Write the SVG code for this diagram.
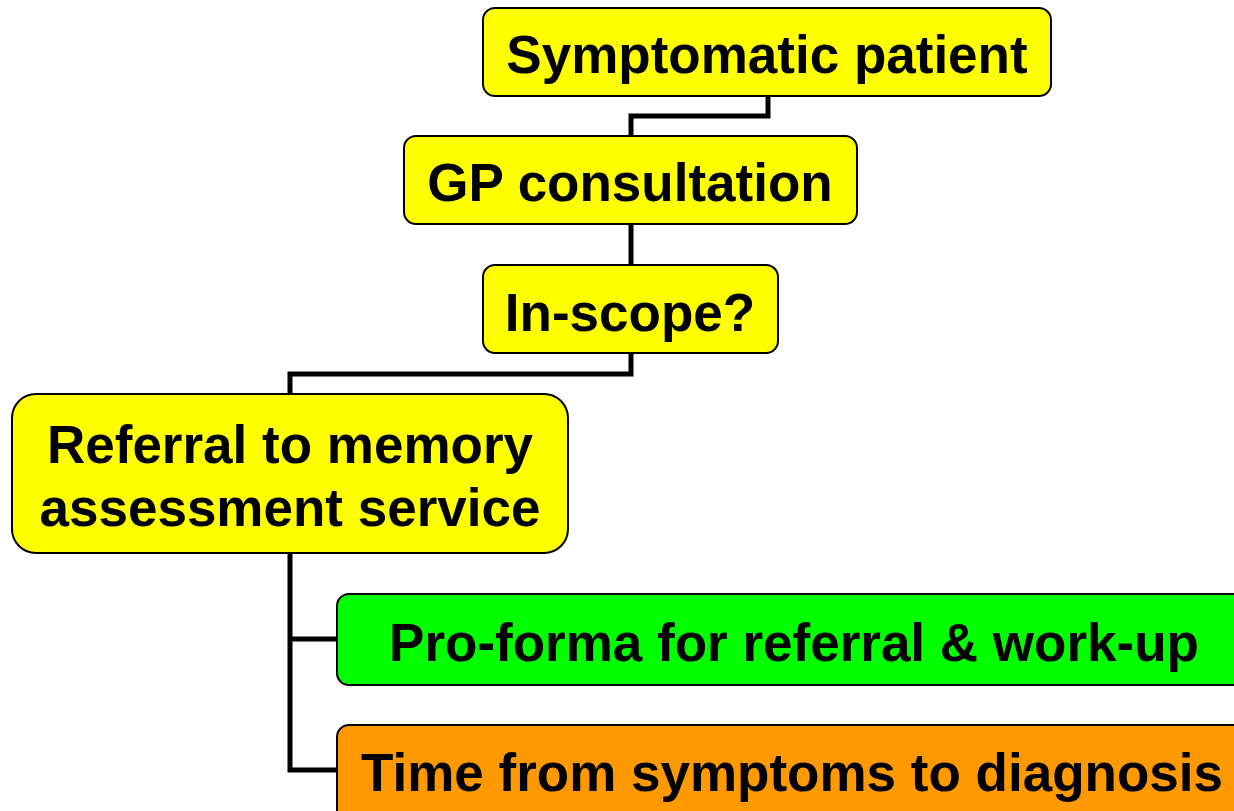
<svg xmlns="http://www.w3.org/2000/svg" width="1234" height="811" viewBox="0 0 1234 811">
<style>
.box{stroke:#000;stroke-width:2}
.y{fill:#ffff00}.g{fill:#00ff00}.o{fill:#ff9900}
text{font-family:"Liberation Sans",Arial,sans-serif;font-weight:bold;font-size:53px;fill:#000;text-anchor:middle}
.c{fill:none;stroke:#000;stroke-width:5}
</style>
<rect width="1234" height="811" fill="#fff"/>
<g id="connectors">
<polyline class="c" points="768,96 768,116 631,116 631,136"/>
<polyline class="c" points="631,224 631,265"/>
<polyline class="c" points="631,353 631,374 290,374 290,394"/>
<polyline class="c" points="290,553 290,770 337,770"/>
<polyline class="c" points="290,639 337,639"/>
</g>
<g id="symptomatic">
<rect class="box y" x="483" y="8" width="568" height="88" rx="12"/>
<text x="767" y="73">Symptomatic patient</text>
</g>
<g id="gp">
<rect class="box y" x="404" y="136" width="453" height="88" rx="12"/>
<text x="630" y="201">GP consultation</text>
</g>
<g id="inscope">
<rect class="box y" x="483" y="265" width="295" height="88" rx="12"/>
<text x="630" y="331">In-scope?</text>
</g>
<g id="referral">
<rect class="box y" x="12" y="394" width="556" height="159" rx="24"/>
<text x="290" y="463">Referral to memory</text>
<text x="290" y="526">assessment service</text>
</g>
<g id="proforma">
<rect class="box g" x="337" y="594" width="920" height="91" rx="12"/>
<text x="794" y="661">Pro-forma for referral &amp; work-up</text>
</g>
<g id="time">
<rect class="box o" x="337" y="725" width="920" height="100" rx="12"/>
<text x="792" y="791">Time from symptoms to diagnosis</text>
</g>
</svg>
